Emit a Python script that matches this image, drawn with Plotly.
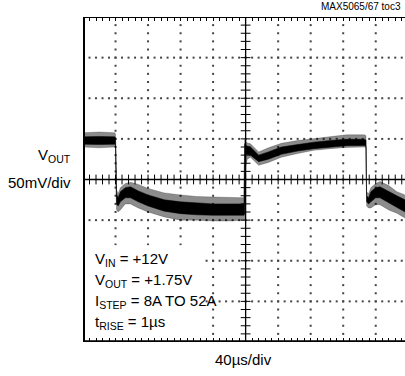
import plotly.graph_objects as go

# time axis in divisions (40us/div), voltage in divisions (50mV/div)
t_div = [0.0, 0.5, 0.98, 1.0, 1.03, 1.08, 1.15, 1.3, 1.46, 1.7, 2.0, 2.5, 3.0, 3.5, 4.0, 4.5, 4.95,
         4.97, 5.0, 5.05, 5.15, 5.4, 5.7, 6.1, 6.6, 7.1, 7.6, 8.1, 8.65, 8.7, 8.72, 8.78, 8.85,
         9.0, 9.13, 9.4, 9.65, 9.9]
outer_hi = [1.15, 1.17, 1.15, 1.12, -0.25, -0.35, -0.2, -0.1, -0.07, -0.12, -0.22, -0.33, -0.38, -0.42,
            -0.43, -0.45, -0.45, 0.97, 0.95, 0.9, 0.88, 0.68, 0.78, 0.89, 0.96, 1.01, 1.06, 1.1, 1.1,
            1.08, -0.3, -0.35, -0.2, -0.1, -0.05, -0.15, -0.3, -0.38]
core_hi = [1.05, 1.06, 1.05, 1.02, -0.35, -0.45, -0.3, -0.2, -0.18, -0.28, -0.38, -0.5, -0.55, -0.58,
           -0.6, -0.6, -0.6, 0.88, 0.86, 0.82, 0.8, 0.6, 0.68, 0.8, 0.86, 0.92, 0.96, 0.99, 0.99,
           0.97, -0.4, -0.45, -0.3, -0.2, -0.18, -0.3, -0.4, -0.5]
core_lo = [0.87, 0.86, 0.87, 0.85, -0.6, -0.65, -0.55, -0.45, -0.45, -0.55, -0.65, -0.78, -0.84, -0.87,
           -0.88, -0.88, -0.88, -0.85, 0.6, 0.62, 0.6, 0.44, 0.5, 0.62, 0.7, 0.76, 0.8, 0.83, 0.84,
           0.82, -0.55, -0.6, -0.55, -0.45, -0.45, -0.58, -0.68, -0.8]
outer_lo = [0.8, 0.78, 0.8, 0.78, -0.75, -0.8, -0.75, -0.6, -0.6, -0.7, -0.8, -0.92, -1.0, -1.0,
            -1.02, -1.02, -1.0, -0.98, 0.3, 0.5, 0.55, 0.35, 0.42, 0.55, 0.64, 0.72, 0.76, 0.79, 0.8,
            0.78, -0.65, -0.7, -0.7, -0.62, -0.62, -0.75, -0.83, -0.95]

conditions = ["V<sub>IN</sub> = +12V", "V<sub>OUT</sub> = +1.75V",
              "I<sub>STEP</sub> = 8A TO 52A", "t<sub>RISE</sub> = 1µs"]

FONT = "Liberation Sans Narrow, Arial Narrow, Liberation Sans, Arial, sans-serif"
X_MAX = 9.9

fig = go.Figure()

# dotted graticule
gx, gy = [], []
for i in range(1, 10):
    if i == 5:
        continue
    for k in range(1, 40):
        gx.append(i)
        gy.append(-4 + 0.2 * k)
for j in range(-3, 4):
    if j == 0:
        continue
    for k in range(1, 50):
        gx.append(0.2 * k)
        gy.append(j)
fig.add_trace(go.Scatter(x=gx, y=gy, mode="markers", hoverinfo="skip",
                         marker=dict(symbol="square", size=2, color="#444", line_width=0)))

# center axes with minor ticks
fig.add_trace(go.Scatter(x=[0.2 * k for k in range(1, 50)], y=[0] * 49, mode="markers", hoverinfo="skip",
                         marker=dict(symbol="line-ns-open", size=7, color="black",
                                     line=dict(width=1, color="black"))))
fig.add_trace(go.Scatter(x=[5] * 39, y=[-4 + 0.2 * k for k in range(1, 40)], mode="markers", hoverinfo="skip",
                         marker=dict(symbol="line-ew-open", size=7, color="black",
                                     line=dict(width=1, color="black"))))

# waveform: noisy outer envelope + dense core
fig.add_trace(go.Scatter(x=t_div, y=outer_lo, mode="lines", line=dict(width=0.5, color="rgba(0,0,0,0.45)"),
                         hoverinfo="skip"))
fig.add_trace(go.Scatter(x=t_div, y=outer_hi, mode="lines", line=dict(width=0.5, color="rgba(0,0,0,0.45)"),
                         fill="tonexty", fillcolor="rgba(0,0,0,0.45)", hoverinfo="skip"))
fig.add_trace(go.Scatter(x=t_div, y=core_lo, mode="lines", line=dict(width=0.5, color="black"),
                         hoverinfo="skip"))
fig.add_trace(go.Scatter(x=t_div, y=core_hi, mode="lines", line=dict(width=0.5, color="black"),
                         fill="tonexty", fillcolor="black", hoverinfo="skip"))

shapes = [
    dict(type="line", x0=5, x1=5, y0=-4, y1=4, line=dict(color="black", width=1.3)),
    dict(type="line", x0=0, x1=X_MAX, y0=0, y1=0, line=dict(color="black", width=1.3)),
    # white box behind the conditions text
    dict(type="rect", x0=0.05, x1=3.72, y0=-3.85, y1=-1.62, fillcolor="white", line_width=0, layer="above"),
    # frame
    dict(type="line", x0=0, x1=0, y0=-4.05, y1=4.03, line=dict(color="black", width=4), layer="above"),
    dict(type="line", x0=0, x1=X_MAX, y0=4, y1=4, line=dict(color="black", width=2), layer="above"),
    dict(type="line", x0=0, x1=X_MAX, y0=-4, y1=-4, line=dict(color="black", width=3.5), layer="above"),
]

annotations = [
    dict(text="MAX5065/67 toc3", x=0.994, y=1.031, xref="paper", yref="paper", xanchor="right",
         yanchor="middle", showarrow=False, font=dict(size=10, color="black")),
    dict(text="V<sub>OUT</sub>", x=-0.031, y=0.575, xref="paper", yref="paper", xanchor="right",
         yanchor="middle", showarrow=False, font=dict(size=15)),
    dict(text="50mV/div", x=-0.031, y=0.49, xref="paper", yref="paper", xanchor="right",
         yanchor="middle", showarrow=False, font=dict(size=15)),
    dict(text="40µs/div", x=0.497, y=-0.055, xref="paper", yref="paper", xanchor="center",
         yanchor="middle", showarrow=False, font=dict(size=15)),
]
for n, line in enumerate(conditions):
    cy = 258 + 21 * n
    annotations.append(dict(text=line, x=0.031, y=(342 - cy - 1) / 325, xref="paper", yref="paper",
                            xanchor="left", yanchor="middle", showarrow=False, font=dict(size=15)))

fig.update_layout(
    width=405, height=376,
    margin=dict(l=83, r=0, t=17, b=34),
    paper_bgcolor="white", plot_bgcolor="white",
    showlegend=False,
    font=dict(family=FONT, color="black"),
    xaxis=dict(range=[0, X_MAX], showgrid=False, zeroline=False, showticklabels=False,
               ticks="inside", ticklen=4, tickwidth=1, tickcolor="black", dtick=0.2, tick0=0,
               mirror="ticks", fixedrange=True),
    yaxis=dict(range=[-4, 4], showgrid=False, zeroline=False, showticklabels=False,
               ticks="", fixedrange=True),
    shapes=shapes,
    annotations=annotations,
)

# drop the browser's default page margin so the figure sits at the window's corner
fig.write_html("out.html", config={"displayModeBar": False},
               post_script="document.body.style.margin='0';")
